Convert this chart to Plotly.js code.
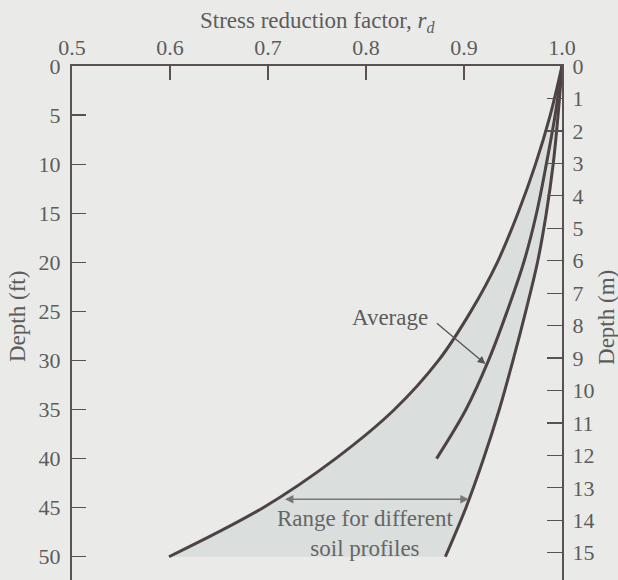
<!DOCTYPE html>
<html>
<head>
<meta charset="utf-8">
<script src="https://cdn.plot.ly/plotly-3.0.1.min.js"></script>
<style>html,body{margin:0;padding:0;background:#eaebe8;}</style>
</head>
<body>
<div id="chart" style="width:618px;height:580px;"></div>
<script>
// Depth (ft) and stress reduction factor r_d
const depthFt = [0, 5, 10, 15, 20, 25, 30, 35, 40, 45, 50];
const rdLower = [1.0, 0.988, 0.973, 0.955, 0.934, 0.907, 0.874, 0.829, 0.769, 0.695, 0.599];
const rdUpper = [1.0, 0.996, 0.991, 0.984, 0.975, 0.963, 0.950, 0.936, 0.920, 0.902, 0.881];
const depthAvg = [0, 5, 10, 15, 20, 25, 30, 35, 40];
const rdAverage = [1.0, 0.993, 0.984, 0.974, 0.961, 0.944, 0.925, 0.902, 0.872];

const xTicks = [0.5, 0.6, 0.7, 0.8, 0.9, 1.0];
const xTickText = ['0.5', '0.6', '0.7', '0.8', '0.9', '1.0'];
const ftTicks = [0, 5, 10, 15, 20, 25, 30, 35, 40, 45, 50];
const mTicks = [0, 1, 2, 3, 4, 5, 6, 7, 8, 9, 10, 11, 12, 13, 14, 15];

const lineCol = '#4d4244';
const axisCol = '#5a5252';
const textCol = '#5c5c5c';
const serif = 'Liberation Serif, Times New Roman, serif';

const traces = [
  {x: rdLower, y: depthFt, mode: 'lines', line: {color: lineCol, width: 3, shape: 'spline', smoothing: 1}, hoverinfo: 'skip', showlegend: false},
  {x: rdUpper, y: depthFt, mode: 'lines', fill: 'tonextx', fillcolor: '#dadedd', line: {color: lineCol, width: 3, shape: 'spline', smoothing: 1}, hoverinfo: 'skip', showlegend: false},
  {x: rdAverage, y: depthAvg, mode: 'lines', line: {color: lineCol, width: 3, shape: 'spline', smoothing: 1}, hoverinfo: 'skip', showlegend: false},
  {x: [1.0], y: [0], yaxis: 'y2', mode: 'markers', marker: {opacity: 0}, hoverinfo: 'skip', showlegend: false}
];

const tickFont = {family: serif, size: 22, color: textCol};
const labelFont = {family: serif, size: 23, color: textCol};

const layout = {
  width: 618, height: 580,
  margin: {l: 72, r: 56, t: 66, b: 0, pad: 0},
  paper_bgcolor: '#eaebe8', plot_bgcolor: '#eaebe8',
  showlegend: false,
  xaxis: {
    side: 'top', range: [0.5, 1.0], tickvals: xTicks, ticktext: xTickText,
    ticks: 'inside', ticklen: 14, tickwidth: 1.2, tickcolor: axisCol,
    showline: true, linecolor: axisCol, linewidth: 2, showgrid: false, zeroline: false,
    tickfont: tickFont, ticklabelstandoff: 0
  },
  yaxis: {
    range: [52.37, 0], tickvals: ftTicks, ticks: 'inside', ticklen: 14, tickwidth: 1.2, tickcolor: axisCol,
    showline: true, linecolor: axisCol, linewidth: 2, showgrid: false, zeroline: false,
    tickfont: tickFont, ticklabelstandoff: 5
  },
  yaxis2: {
    overlaying: 'y', side: 'right', range: [15.84, 0], tickvals: mTicks,
    ticks: 'inside', ticklen: 15, tickwidth: 1.2, tickcolor: axisCol,
    showline: true, linecolor: axisCol, linewidth: 2, showgrid: false, zeroline: false,
    tickfont: tickFont, ticklabelstandoff: 4
  },
  annotations: [
    {xref: 'paper', yref: 'paper', x: 0.5, y: 1.0856, text: 'Stress reduction factor, <i>r</i><sub><i>d</i></sub>',
     showarrow: false, font: labelFont, xanchor: 'center', yanchor: 'middle'},
    {xref: 'paper', yref: 'paper', x: -0.1102, y: 0.5117, text: 'Depth (ft)', textangle: -90,
     showarrow: false, font: labelFont, xanchor: 'center', yanchor: 'middle'},
    {xref: 'paper', yref: 'paper', x: 1.0918, y: 0.5117, text: 'Depth (m)', textangle: -90,
     showarrow: false, font: labelFont, xanchor: 'center', yanchor: 'middle'},
    {x: 0.8248, y: 25.58, text: 'Average', showarrow: false,
     font: labelFont, xanchor: 'center', yanchor: 'middle'},
    {x: 0.9219, y: 30.36, ax: 0.8708, ay: 26.09, axref: 'x', ayref: 'y', text: '', showarrow: true,
     arrowhead: 2, arrowsize: 1.2, arrowwidth: 1.3, arrowcolor: '#555'},
    {x: 0.9048, y: 44.15, ax: 0.7158, ay: 44.15, axref: 'x', ayref: 'y', text: '', showarrow: true,
     arrowhead: 2, startarrowhead: 2, arrowside: 'end+start', arrowsize: 1.2, startarrowsize: 1.2, arrowwidth: 1.4, arrowcolor: '#777'},
    {x: 0.7993, y: 47.66, text: 'Range for different<br>soil profiles', showarrow: false,
     font: {family: serif, size: 23, color: '#666'}, xanchor: 'center', yanchor: 'middle'}
  ]
};

Plotly.newPlot('chart', traces, layout, {staticPlot: true, displayModeBar: false});
</script>
</body>
</html>
